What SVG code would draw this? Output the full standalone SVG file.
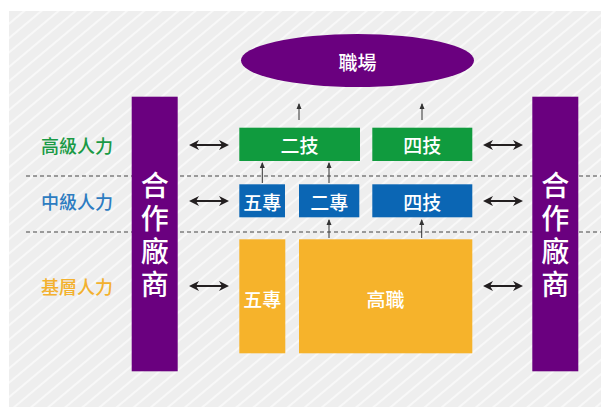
<svg xmlns="http://www.w3.org/2000/svg" width="601" height="407" viewBox="0 0 601 407">
<style>
text{font-family:"Noto Sans CJK TC","Noto Sans CJK SC",sans-serif;text-anchor:middle;dominant-baseline:central;font-weight:500}
.w{fill:#fff;font-size:19px}
.bar{fill:#6a007f}
.bt{fill:#fff;font-size:28px;writing-mode:vertical-rl;text-anchor:start;letter-spacing:5px}
.g{fill:#109b3e}.b{fill:#0b66b4}.y{fill:#f6b32b}
.lab{font-size:18px}
.dash{stroke:#444;stroke-width:1;stroke-dasharray:4 3;fill:none}
.da{stroke:#231f20;stroke-width:2;marker-start:url(#hs);marker-end:url(#he);fill:none}
.ua{stroke:#333;stroke-width:1;marker-end:url(#su);fill:none}
</style>
<defs>
<pattern id="stripe" width="11" height="11" patternUnits="userSpaceOnUse" patternTransform="rotate(50)">
<line x1="2" y1="0" x2="2" y2="11" stroke="#ffffff" stroke-width="1.4" stroke-opacity="0.85"/>
</pattern>
<marker id="he" viewBox="0 0 10 10" refX="8" refY="5" markerWidth="10" markerHeight="10" markerUnits="userSpaceOnUse" orient="auto">
<path d="M0,0 L10,5 L0,10 L3,5 Z" fill="#231f20"/>
</marker>
<marker id="hs" viewBox="0 0 10 10" refX="2" refY="5" markerWidth="10" markerHeight="10" markerUnits="userSpaceOnUse" orient="auto">
<path d="M10,0 L0,5 L10,10 L7,5 Z" fill="#231f20"/>
</marker>
<marker id="su" viewBox="0 0 6 6" refX="5" refY="3" markerWidth="6" markerHeight="6" markerUnits="userSpaceOnUse" orient="auto">
<path d="M0,0.5 L6,3 L0,5.5 Z" fill="#333"/>
</marker>
</defs>
<rect x="0" y="0" width="601" height="407" fill="#ffffff"/>
<rect x="9" y="11" width="592" height="396" fill="#eeeeee"/>
<rect x="9" y="11" width="592" height="396" fill="url(#stripe)"/>

<g id="dividers">
<line class="dash" x1="26" y1="176" x2="601" y2="176"/>
<line class="dash" x1="26" y1="232" x2="601" y2="232"/>
</g>

<g id="label-high"><text class="lab" x="77" y="145" fill="#1a9a45">高級人力</text></g>
<g id="label-mid"><text class="lab" x="77" y="201" fill="#2d7cc1">中級人力</text></g>
<g id="label-base"><text class="lab" x="77" y="286" fill="#f3b12f">基層人力</text></g>

<g id="workplace">
<ellipse cx="357.5" cy="60.5" rx="116.5" ry="26.5" fill="#6a007f"/>
<text class="w" x="357.5" y="61">職場</text>
</g>

<g id="partner-left">
<rect class="bar" x="131.7" y="96.7" width="46" height="274.6"/>
<text class="bt" x="154.7" y="171">合作廠商</text>
</g>
<g id="partner-right">
<rect class="bar" x="532.3" y="96.7" width="46" height="274.6"/>
<text class="bt" x="555.3" y="171">合作廠商</text>
</g>

<g id="erji"><rect class="g" x="239.3" y="127.7" width="120.7" height="33.3"/><text class="w" x="299.6" y="144.5">二技</text></g>
<g id="siji-high"><rect class="g" x="372.3" y="127.7" width="100" height="33.3"/><text class="w" x="422.3" y="144.5">四技</text></g>

<g id="wuzhuan-mid"><rect class="b" x="239.3" y="184.3" width="45.7" height="33"/><text class="w" x="262.2" y="201">五專</text></g>
<g id="erzhuan"><rect class="b" x="299" y="184.3" width="60.3" height="33"/><text class="w" x="329.2" y="201">二專</text></g>
<g id="siji-mid"><rect class="b" x="372.3" y="184.3" width="100" height="33"/><text class="w" x="422.3" y="201">四技</text></g>

<g id="wuzhuan-base"><rect class="y" x="239.3" y="239.3" width="46" height="114"/><text class="w" x="262.3" y="298">五專</text></g>
<g id="gaozhi"><rect class="y" x="299" y="239.3" width="173.3" height="114"/><text class="w" x="385.6" y="298">高職</text></g>

<g id="connectors">
<line class="da" x1="191" y1="145" x2="227" y2="145"/>
<line class="da" x1="191" y1="201" x2="227" y2="201"/>
<line class="da" x1="191" y1="286" x2="227" y2="286"/>
<line class="da" x1="485" y1="145" x2="521" y2="145"/>
<line class="da" x1="485" y1="201" x2="521" y2="201"/>
<line class="da" x1="485" y1="286" x2="521" y2="286"/>
<line class="ua" x1="299" y1="120" x2="299" y2="104"/>
<line class="ua" x1="422" y1="120" x2="422" y2="104"/>
<line class="ua" x1="262.3" y1="183" x2="262.3" y2="163"/>
<line class="ua" x1="329" y1="183" x2="329" y2="163"/>
<line class="ua" x1="329" y1="238" x2="329" y2="220"/>
<line class="ua" x1="421.7" y1="238" x2="421.7" y2="220"/>
</g>
</svg>
